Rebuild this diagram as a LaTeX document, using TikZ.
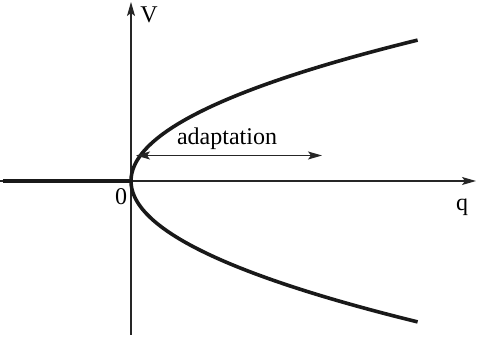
\documentclass[tikz,border=0pt]{standalone}
\usepackage{fontspec}
\setmainfont{Liberation Serif}
\usetikzlibrary{arrows.meta, positioning}

\begin{document}
\begin{tikzpicture}[
        x=1pt, y=1pt,
        axis/.style={line width=1.2pt, black!85, -{Stealth[length=14pt, width=8pt, inset=3pt]}},
        branch/.style={line width=3.6pt, black!90},
        arr/.style={line width=1.2pt, black!85, {Stealth[length=14pt, width=8pt, inset=3pt]}-{Stealth[length=14pt, width=8pt, inset=3pt]}},
        lbl/.style={font=\fontsize{24}{28}\selectfont, inner sep=0pt},
    ]
    \useasboundingbox (-131,-158) rectangle (351,181);
    \coordinate (o) at (0,0);
    \coordinate (qstart) at (-131,0);
    \coordinate (qend) at (345,0);
    \coordinate (vstart) at (0,-154);
    \coordinate (vend) at (0,179);
    \coordinate (left) at (-128,0);
    \draw[axis] (qstart) -- (qend);
    \draw[axis] (vstart) -- (vend);
    \draw[branch] (left) -- (o);
    % upper and lower branch, V = +- sqrt(q)
    \draw[branch, domain=0:1, samples=60, smooth] plot ({287*\x*\x}, {141*\x});
    \draw[branch, domain=0:1, samples=60, smooth] plot ({287*\x*\x}, {-141*\x});
    \node[lbl] (vlbl) at (18,166) {V};
    \node[lbl] (qlbl) at (331,-26) {q};
    \node[lbl] (zero) at (-10,-16) {0};
    \node[lbl, anchor=base] (adapt) at (96,36) {adaptation};
    \coordinate (afrom) at (5,25.5);
    \coordinate (ato) at (191,25.5);
    \draw[arr] (afrom) -- (ato);
\end{tikzpicture}
\end{document}
